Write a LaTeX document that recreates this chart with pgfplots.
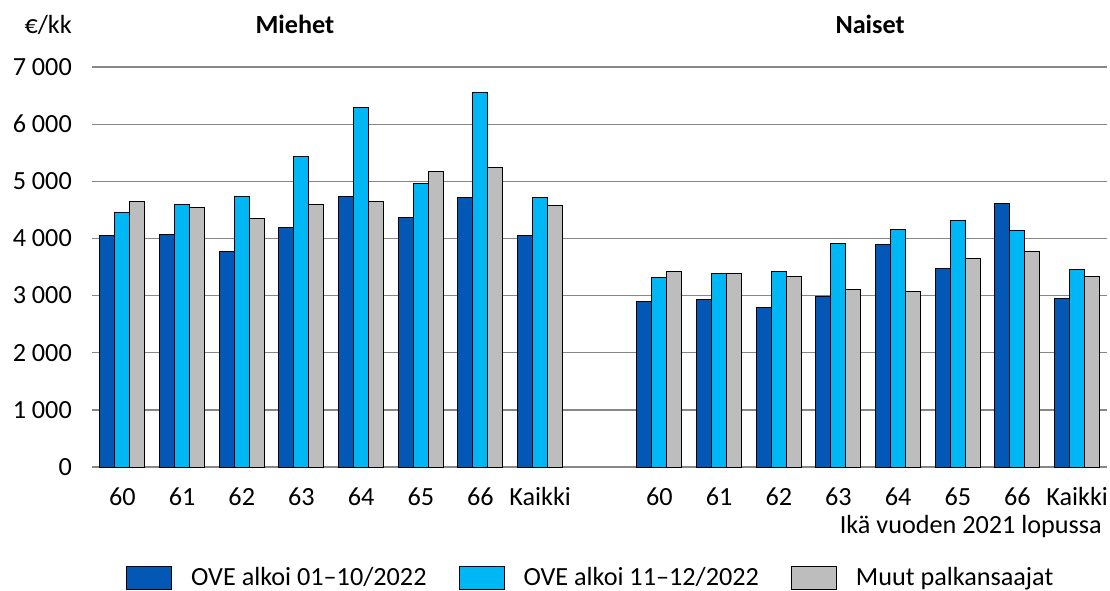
\documentclass[border=0pt]{standalone}
\usepackage{fontspec}
\setmainfont{Carlito}
\usepackage{pgfplots}
\pgfplotsset{compat=1.18}
\definecolor{cdark}{RGB}{3,88,182}
\definecolor{clight}{RGB}{0,183,245}
\definecolor{cgray}{RGB}{189,189,189}
\definecolor{cgrid}{RGB}{135,135,135}
\begin{document}
\fontsize{26.3}{31}\selectfont
\begin{tikzpicture}
\useasboundingbox (0bp,0bp) rectangle (1110bp,-591bp);
\begin{axis}[
  at={(92bp,-467bp)}, anchor=south west,
  scale only axis, width=1015bp, height=400bp,
  xmin=-0.51, xmax=16.5, ymin=0, ymax=7000,
  clip=false,
  ybar=0pt, bar width=15bp,
  axis line style={draw=none},
  tick style={draw=none},
  ymajorgrids, grid style={cgrid, line width=1.3bp},
  ytick={0,1000,...,7000},
  scaled y ticks=false,
  /pgf/number format/1000 sep={\ },
  /pgf/number format/assume math mode=true,
  yticklabel style={anchor=east, inner sep=0pt, xshift=-20bp},
  xtick={0,1,2,3,4,5,6,7,9,10,11,12,13,14,15,16},
  xticklabels={\mbox{60},\mbox{61},\mbox{62},\mbox{63},\mbox{64},\mbox{65},\mbox{66},\mbox{Kaikki},\mbox{60},\mbox{61},\mbox{62},\mbox{63},\mbox{64},\mbox{65},\mbox{66},\mbox{Kaikki}},
  xticklabel style={anchor=base, inner sep=0pt, yshift=-34bp},
  xlabel={Ikä vuoden 2021 lopussa},
  xlabel style={at={(axis description cs:1,0)}, anchor=base east, inner sep=0pt, yshift=-66bp, xshift=-5bp},
  legend columns=3,
  legend image code/.code={\draw[#1] (0bp,-11.5bp) rectangle (45bp,11.5bp);},
  legend style={draw=none, fill=none, inner sep=0pt, at={(axis description cs:0.0335,-0.2775)}, anchor=west,
    nodes={inner sep=0pt},
    /tikz/every odd column/.append style={column sep=19bp},
    /tikz/every even column/.append style={column sep=32bp},
    cells={anchor=west}},
]
\addplot[fill=cdark, draw=black, line width=1bp] coordinates {
 (0,4060) (1,4070) (2,3780) (3,4200) (4,4735) (5,4370) (6,4720) (7,4050)
 (9,2890) (10,2940) (11,2800) (12,2990) (13,3900) (14,3470) (15,4620) (16,2950)};
\addplot[fill=clight, draw=black, line width=1bp] coordinates {
 (0,4450) (1,4600) (2,4740) (3,5440) (4,6290) (5,4960) (6,6560) (7,4710)
 (9,3320) (10,3390) (11,3420) (12,3920) (13,4150) (14,4320) (15,4140) (16,3450)};
\addplot[fill=cgray, draw=black, line width=1bp] coordinates {
 (0,4640) (1,4540) (2,4350) (3,4600) (4,4650) (5,5170) (6,5250) (7,4570)
 (9,3420) (10,3380) (11,3330) (12,3115) (13,3070) (14,3650) (15,3770) (16,3340)};
\legend{OVE alkoi 01–10/2022, OVE alkoi 11–12/2022, Muut palkansaajat}
\node[anchor=base, yshift=33.5bp, font=\bfseries] at (axis cs:2.89,7000) {Miehet};
\node[anchor=base, yshift=33.5bp, font=\bfseries] at (axis cs:12.53,7000) {Naiset};
\node[anchor=base east, inner sep=0pt, yshift=33.5bp, xshift=-20bp] at (axis description cs:0,1) {€/kk};
\end{axis}
\end{tikzpicture}
\end{document}
